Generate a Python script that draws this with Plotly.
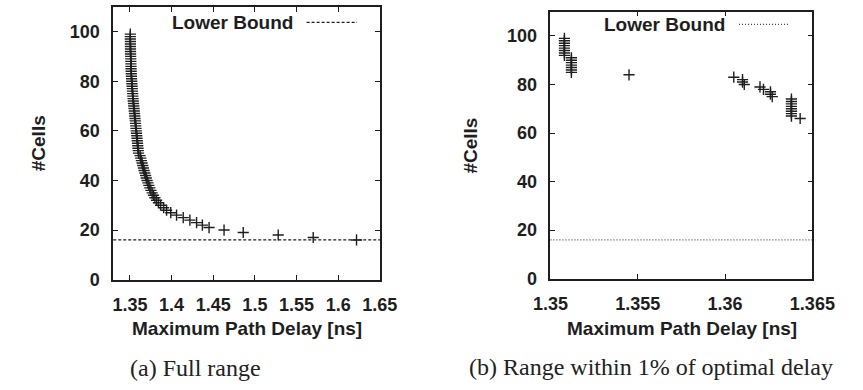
import plotly.graph_objects as go
from plotly.subplots import make_subplots

# ---------------- data ----------------
# (a) full range: #cells vs maximum path delay [ns]
full_cells = list(range(99, 15, -1))
full_delay = [
    1.3505, 1.3505, 1.3505, 1.3506, 1.3506, 1.3506, 1.3507, 1.3507, 1.3508, 1.3509,
    1.3510, 1.3511, 1.3512, 1.3513, 1.3514, 1.3515, 1.3517, 1.3518, 1.3520, 1.3522,
    1.3524, 1.3526, 1.3528, 1.3530, 1.3533, 1.3535, 1.3538, 1.3540, 1.3543, 1.3546,
    1.3549, 1.3552, 1.3555, 1.3558, 1.3561, 1.3564, 1.3567, 1.3570, 1.3573, 1.3576,
    1.3579, 1.3582, 1.3585, 1.3588, 1.3591, 1.3594, 1.3597, 1.3600, 1.3604, 1.3622,
    1.3630, 1.3638, 1.3646, 1.3654, 1.3662, 1.3670, 1.3679, 1.3688, 1.3697, 1.3706,
    1.3716, 1.3727, 1.3739, 1.3752, 1.3767, 1.3783, 1.3800, 1.3820, 1.3842, 1.3868,
    1.3905, 1.3940, 1.3990, 1.4060, 1.4140, 1.4220, 1.4300, 1.4370, 1.4450, 1.4630,
    1.4860, 1.5280, 1.5700, 1.6220,
]
# (b) range within 1% of optimal delay
near_cells = [99, 98, 97, 96, 95, 94, 93, 92,
              91, 90, 89, 88, 87, 86, 85,
              84, 83, 82, 81, 80, 79, 78, 77, 76, 75,
              74, 73, 72, 71, 70, 69, 68, 67, 66]
near_delay = [1.3508, 1.3508, 1.3508, 1.3508, 1.3508, 1.3508, 1.3508, 1.3508,
              1.3512, 1.3512, 1.3512, 1.3512, 1.3512, 1.3512, 1.3512,
              1.3545, 1.3605, 1.3610, 1.3610, 1.3611, 1.3620, 1.3622, 1.3626, 1.3626, 1.3627,
              1.3638, 1.3638, 1.3638, 1.3638, 1.3638, 1.3638, 1.3638, 1.3638, 1.3643]
lower_bound = 16

full_xticks = [1.35, 1.4, 1.45, 1.5, 1.55, 1.6, 1.65]
full_xtext = ["1.35", "1.4", "1.45", "1.5", "1.55", "1.6", "1.65"]
near_xticks = [1.35, 1.355, 1.36, 1.365]
near_xtext = ["1.35", "1.355", "1.36", "1.365"]
y_ticks = [0, 20, 40, 60, 80, 100]

x_title = "Maximum Path Delay [ns]"
y_title = "#Cells"
legend_label = "Lower Bound"
captions = ["(a) Full range", "(b) Range within 1% of optimal delay"]

# ---------------- layout helpers ----------------
W, H = 863, 390
def fx(p):
    return p / W
def fy(p):
    return 1 - p / H

SANS = "Liberation Sans, Arial, Helvetica, sans-serif"
SERIF = "Liberation Serif, Times New Roman, serif"
INK = "#1e1e1e"

fig = make_subplots(rows=1, cols=2)
marker = dict(symbol="cross-thin", size=8, color=INK, line=dict(width=1.4, color=INK))
fig.add_trace(go.Scatter(x=full_delay, y=full_cells, mode="markers", marker=marker,
                         showlegend=False, hoverinfo="skip"), row=1, col=1)
fig.add_trace(go.Scatter(x=near_delay, y=near_cells, mode="markers", marker=marker,
                         showlegend=False, hoverinfo="skip"), row=1, col=2)
fig.add_hline(y=lower_bound, line=dict(color=INK, width=1.2, dash="3px,2px"), row=1, col=1)
fig.add_hline(y=lower_bound, line=dict(color="#444", width=1.2, dash="1px,2px"), row=1, col=2)

axis_common = dict(
    showline=True, linecolor=INK, linewidth=1.6, mirror="ticks",
    ticks="inside", ticklen=5, tickwidth=1.2, tickcolor=INK,
    showgrid=False, zeroline=False,
    tickfont=dict(family=SANS, size=18, color=INK, weight="bold"),
)
fig.update_xaxes(**axis_common)
fig.update_yaxes(**axis_common)
fig.update_layout(
    xaxis=dict(domain=[fx(100), fx(380)], range=[1.33, 1.6501],
               tickvals=full_xticks, ticktext=full_xtext, ticklabelstandoff=8),
    yaxis=dict(domain=[fy(287), fy(7)], range=[0, 110], tickvals=y_ticks, ticklabelstandoff=8),
    xaxis2=dict(domain=[fx(559), fx(834)], range=[1.35 - 1e-7, 1.365 + 1e-7],
                tickvals=near_xticks, ticktext=near_xtext, ticklabelstandoff=8),
    yaxis2=dict(domain=[fy(286), fy(12)], range=[0, 110], tickvals=y_ticks, ticklabelstandoff=8),
    width=W, height=H, margin=dict(l=0, r=0, t=0, b=0),
    paper_bgcolor="white", plot_bgcolor="white", showlegend=False,
)

title_font = dict(family=SANS, size=19, color=INK, weight="bold")
ann = []
ann.append(dict(text=x_title, x=fx(240), y=fy(337), xref="paper", yref="paper",
                showarrow=False, font=title_font, xanchor="center", yanchor="middle"))
ann.append(dict(text=x_title, x=fx(697), y=fy(337), xref="paper", yref="paper",
                showarrow=False, font=title_font, xanchor="center", yanchor="middle"))
ann.append(dict(text=y_title, x=fx(21), y=fy(147), xref="paper", yref="paper", textangle=-90,
                showarrow=False, font=title_font, xanchor="center", yanchor="middle"))
ann.append(dict(text=y_title, x=fx(475), y=fy(149), xref="paper", yref="paper", textangle=-90,
                showarrow=False, font=title_font, xanchor="center", yanchor="middle"))
ann.append(dict(text=legend_label, x=fx(291), y=fy(23), xref="paper", yref="paper",
                showarrow=False, font=title_font, xanchor="right", yanchor="middle"))
ann.append(dict(text=legend_label, x=fx(744), y=fy(25), xref="paper", yref="paper",
                showarrow=False, font=title_font, xanchor="right", yanchor="middle"))
cap_font = dict(family=SERIF, size=24, color="#222")
ann.append(dict(text=captions[0], x=fx(186), y=fy(378), xref="paper", yref="paper",
                showarrow=False, font=cap_font, xanchor="center", yanchor="middle"))
ann.append(dict(text=captions[1], x=fx(665), y=fy(377), xref="paper", yref="paper",
                showarrow=False, font=cap_font, xanchor="center", yanchor="middle"))
fig.update_layout(annotations=ann)

# legend line samples (gnuplot-style key: text left, line sample right)
fig.add_shape(type="line", xref="paper", yref="paper", x0=fx(303), x1=fx(356), y0=fy(23), y1=fy(23),
              line=dict(color=INK, width=1.2, dash="3px,2px"))
fig.add_shape(type="line", xref="paper", yref="paper", x0=fx(757), x1=fx(809), y0=fy(25), y1=fy(25),
              line=dict(color="#444", width=1.2, dash="1px,2px"))

fig.write_html("out.html", config={"displayModeBar": False},
               post_script="document.body.style.margin='0';document.body.style.overflow='hidden';")
